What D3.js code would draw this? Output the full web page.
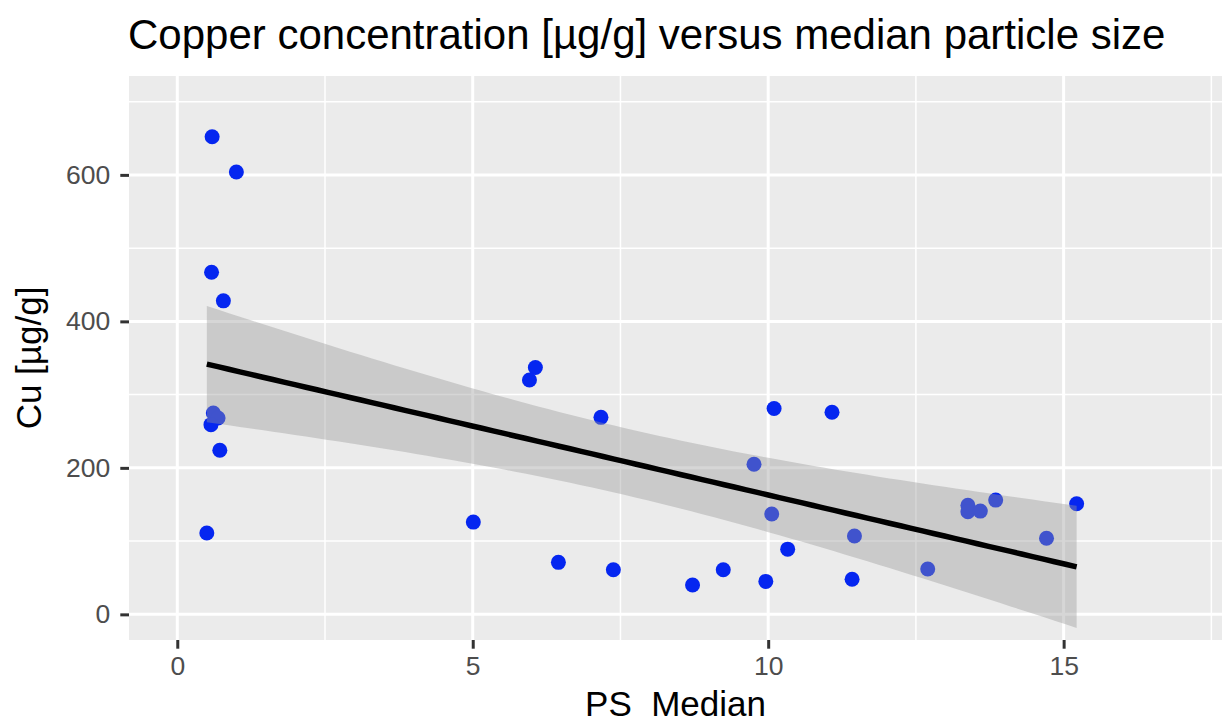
<!DOCTYPE html>
<html>
<head>
<meta charset="utf-8">
<script src="https://cdn.jsdelivr.net/npm/d3@7"></script>
<style>
  html, body { margin: 0; padding: 0; background: #ffffff; }
  svg { display: block; font-family: "Liberation Sans", Arial, Helvetica, sans-serif; }
</style>
</head>
<body>
<svg id="chart" width="1224" height="724"></svg>
<script>
// ---- Data ----
const psMedian = [0.59, 1.00, 0.58, 0.78, 0.61, 0.69, 0.57, 0.72, 0.50,
                  5.01, 6.06, 5.96, 7.17, 6.45, 7.38,
                  10.10, 11.08, 9.76, 10.06, 11.46, 10.33, 9.24, 8.72, 9.96, 11.42,
                  12.70, 13.38, 13.38, 13.59, 13.85, 14.71, 15.22];
const cuValues = [652, 604, 467, 428, 275, 268, 259, 224, 111,
                  126, 337, 320, 269, 71, 61,
                  281, 276, 205, 137, 107, 89, 61, 40, 45, 48,
                  62, 149, 140, 141, 156, 104, 151];
const xTicks = [0, 5, 10, 15];
const xMinorTicks = [2.5, 7.5, 12.5, 17.5];
const yTicks = [0, 200, 400, 600];
const yMinorTicks = [100, 300, 500, 700];
const titleText = "Copper concentration [\u00b5g/g] versus median particle size";
const xTitle = "PS  Median";
const yTitle = "Cu [\u00b5g/g]";

// ---- Layout ----
const panel = { left: 129, right: 1222, top: 76, bottom: 640 };
const svg = d3.select("#chart");

const x = d3.scaleLinear().domain([-0.817, 17.68]).range([panel.left, panel.right]);
const y = d3.scaleLinear().domain([-35, 735]).range([panel.bottom, panel.top]);

// ---- Linear fit with 95% confidence band (geom_smooth(method = "lm")) ----
const n = psMedian.length;
const mx = d3.mean(psMedian), my = d3.mean(cuValues);
let sxx = 0, sxy = 0;
for (let i = 0; i < n; i++) {
  sxx += (psMedian[i] - mx) ** 2;
  sxy += (psMedian[i] - mx) * (cuValues[i] - my);
}
const slope = sxy / sxx;
const intercept = my - slope * mx;
let sse = 0;
for (let i = 0; i < n; i++) {
  const r = cuValues[i] - (intercept + slope * psMedian[i]);
  sse += r * r;
}
const df = n - 2;
const sigma = Math.sqrt(sse / df);

function lnGamma(z) {
  const g = 7;
  const c = [0.99999999999980993, 676.5203681218851, -1259.1392167224028,
    771.32342877765313, -176.61502916214059, 12.507343278686905,
    -0.13857109526572012, 9.9843695780195716e-6, 1.5056327351493116e-7];
  if (z < 0.5) return Math.log(Math.PI / Math.sin(Math.PI * z)) - lnGamma(1 - z);
  z -= 1;
  let a = c[0];
  const t = z + g + 0.5;
  for (let i = 1; i < g + 2; i++) a += c[i] / (z + i);
  return 0.5 * Math.log(2 * Math.PI) + (z + 0.5) * Math.log(t) - t + Math.log(a);
}
function tPdf(t, v) {
  return Math.exp(lnGamma((v + 1) / 2) - lnGamma(v / 2)) / Math.sqrt(v * Math.PI) *
         Math.pow(1 + t * t / v, -(v + 1) / 2);
}
function tArea(t, v) { // integral 0..t
  const m = 400, h = t / m;
  let s = tPdf(0, v) + tPdf(t, v);
  for (let i = 1; i < m; i++) s += (i % 2 ? 4 : 2) * tPdf(i * h, v);
  return s * h / 3;
}
function tQuantile975(v) {
  let lo = 0, hi = 20;
  for (let k = 0; k < 60; k++) {
    const mid = (lo + hi) / 2;
    if (tArea(mid, v) < 0.475) lo = mid; else hi = mid;
  }
  return (lo + hi) / 2;
}
const tcrit = tQuantile975(df);

const xmin = d3.min(psMedian), xmax = d3.max(psMedian);
const fit = d3.range(80).map(i => {
  const xv = xmin + (xmax - xmin) * i / 79;
  const yv = intercept + slope * xv;
  const se = sigma * Math.sqrt(1 / n + (xv - mx) ** 2 / sxx);
  return { x: xv, y: yv, lo: yv - tcrit * se, hi: yv + tcrit * se };
});

// ---- Panel ----
svg.append("rect")
  .attr("x", panel.left).attr("y", panel.top)
  .attr("width", panel.right - panel.left).attr("height", panel.bottom - panel.top)
  .attr("fill", "#EBEBEB");

const grid = svg.append("g");
grid.selectAll(".xminor").data(xMinorTicks).enter().append("line")
  .attr("x1", d => x(d)).attr("x2", d => x(d))
  .attr("y1", panel.top).attr("y2", panel.bottom)
  .attr("stroke", "#ffffff").attr("stroke-width", 1.5);
grid.selectAll(".yminor").data(yMinorTicks).enter().append("line")
  .attr("y1", d => y(d)).attr("y2", d => y(d))
  .attr("x1", panel.left).attr("x2", panel.right)
  .attr("stroke", "#ffffff").attr("stroke-width", 1.5);
grid.selectAll(".xmajor").data(xTicks).enter().append("line")
  .attr("x1", d => x(d)).attr("x2", d => x(d))
  .attr("y1", panel.top).attr("y2", panel.bottom)
  .attr("stroke", "#ffffff").attr("stroke-width", 3);
grid.selectAll(".ymajor").data(yTicks).enter().append("line")
  .attr("y1", d => y(d)).attr("y2", d => y(d))
  .attr("x1", panel.left).attr("x2", panel.right)
  .attr("stroke", "#ffffff").attr("stroke-width", 3);

// ---- Points ----
svg.append("g").selectAll("circle").data(psMedian).enter().append("circle")
  .attr("cx", d => x(d))
  .attr("cy", (d, i) => y(cuValues[i]))
  .attr("r", 7.5)
  .attr("fill", "#0526f0");

// ---- Confidence ribbon and fit line ----
svg.append("path").datum(fit)
  .attr("d", d3.area().x(d => x(d.x)).y0(d => y(d.lo)).y1(d => y(d.hi)))
  .attr("fill", "#999999").attr("fill-opacity", 0.4);
svg.append("path").datum(fit)
  .attr("d", d3.line().x(d => x(d.x)).y(d => y(d.y)))
  .attr("fill", "none").attr("stroke", "#000000").attr("stroke-width", 5.5);

// ---- Axes ----
const xAxis = d3.axisBottom(x).tickValues(xTicks).tickSize(8.7).tickPadding(7).tickFormat(d3.format("d"));
const gx = svg.append("g").attr("transform", `translate(0,${panel.bottom})`).call(xAxis);
gx.select(".domain").remove();
gx.selectAll(".tick line").attr("stroke", "#333333").attr("stroke-width", 3);
gx.selectAll(".tick text").attr("fill", "#4D4D4D").attr("font-size", 26.5)
  .attr("font-family", "Liberation Sans, Arial, sans-serif");

const yAxis = d3.axisLeft(y).tickValues(yTicks).tickSize(8.7).tickPadding(10).tickFormat(d3.format("d"));
const gy = svg.append("g").attr("transform", `translate(${panel.left},0)`).call(yAxis);
gy.select(".domain").remove();
gy.selectAll(".tick line").attr("stroke", "#333333").attr("stroke-width", 3);
gy.selectAll(".tick text").attr("fill", "#4D4D4D").attr("font-size", 26.5)
  .attr("font-family", "Liberation Sans, Arial, sans-serif");

// ---- Titles ----
svg.append("text")
  .attr("x", 128).attr("y", 49)
  .attr("font-size", 42).attr("fill", "#000000")
  .text(titleText);

svg.append("text")
  .attr("x", (panel.left + panel.right) / 2).attr("y", 716)
  .attr("text-anchor", "middle").attr("font-size", 35).attr("fill", "#000000")
  .style("white-space", "pre")
  .text(xTitle);

svg.append("text")
  .attr("transform", `translate(41,${(panel.top + panel.bottom) / 2}) rotate(-90)`)
  .attr("text-anchor", "middle").attr("font-size", 35).attr("fill", "#000000")
  .text(yTitle);
</script>
</body>
</html>
